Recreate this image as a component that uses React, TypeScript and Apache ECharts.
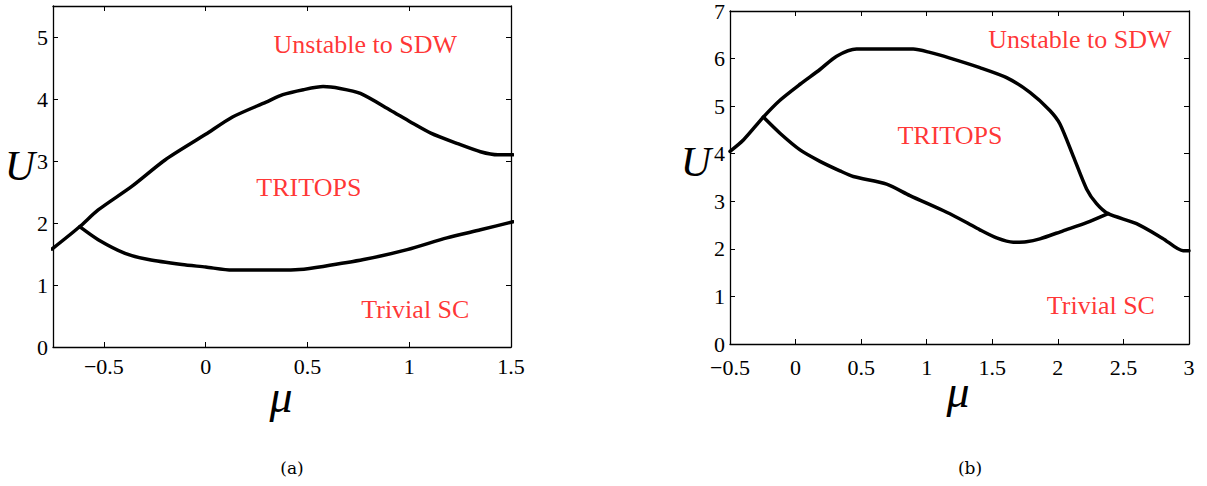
import React, { useEffect, useRef } from "react";
import * as echarts from "echarts";

// Panel (a)
const aUpperMu = [-0.755, -0.619, -0.528, -0.363, -0.198, 0, 0.132, 0.297, 0.379, 0.48, 0.577, 0.66, 0.76, 0.907, 1.006, 1.106, 1.238, 1.35, 1.436, 1.51];
const aUpperU = [1.58, 1.94, 2.21, 2.59, 3.02, 3.43, 3.71, 3.95, 4.07, 4.15, 4.2, 4.17, 4.09, 3.82, 3.63, 3.45, 3.28, 3.15, 3.1, 3.1];
const aLowerMu = [-0.619, -0.528, -0.396, -0.281, -0.116, 0, 0.13, 0.363, 0.46, 0.577, 0.776, 0.99, 1.185, 1.35, 1.51];
const aLowerU = [1.94, 1.73, 1.51, 1.41, 1.33, 1.29, 1.24, 1.24, 1.25, 1.3, 1.41, 1.57, 1.76, 1.89, 2.02];

// Panel (b)
const bUpperMu = [-0.5, -0.398, -0.246, -0.121, 0.034, 0.186, 0.313, 0.465, 0.897, 1.024, 1.177, 1.405, 1.609, 1.787, 1.939, 2.015, 2.117, 2.219, 2.295, 2.383, 2.6, 2.8, 2.955, 3.0];
const bUpperU = [4.05, 4.29, 4.77, 5.12, 5.46, 5.77, 6.05, 6.2, 6.2, 6.13, 6.01, 5.81, 5.6, 5.29, 4.91, 4.63, 3.95, 3.26, 2.95, 2.74, 2.53, 2.22, 1.96, 1.96];
const bLowerMu = [-0.246, -0.119, 0.034, 0.186, 0.338, 0.44, 0.694, 0.872, 1.152, 1.3, 1.405, 1.533, 1.66, 1.76, 1.863, 2.04, 2.219, 2.383];
const bLowerU = [4.77, 4.43, 4.08, 3.84, 3.64, 3.52, 3.36, 3.12, 2.77, 2.56, 2.4, 2.23, 2.14, 2.15, 2.21, 2.38, 2.55, 2.74];

const aXTicks = [-0.5, 0, 0.5, 1, 1.5];
const aYTicks = [0, 1, 2, 3, 4, 5];
const bXTicks = [-0.5, 0, 0.5, 1, 1.5, 2, 2.5, 3];
const bYTicks = [0, 1, 2, 3, 4, 5, 6, 7];

const regionNames = ["Unstable to SDW", "TRITOPS", "Trivial SC"];
const aRegionPos: [number, number][] = [[0.784, 4.88], [0.507, 2.58], [1.03, 0.6]];
const bRegionPos: [number, number][] = [[2.168, 6.41], [1.177, 4.39], [2.328, 0.81]];

const SERIF = "Liberation Serif";

const fmt = (v: number) => String(v).replace("-", "\u2212");

function zip(xs: number[], ys: number[]) {
  return xs.map((x, i) => [x, ys[i]]);
}

export default function App() {
  const ref = useRef<HTMLDivElement>(null);
  useEffect(() => {
    document.body.style.margin = "0";
    if (!ref.current) return;
    const chart = echarts.init(ref.current, null, { renderer: "svg" });

    const lineStyleAxis = { color: "#000", width: 1.3 };
    const mkX = (gi: number, min: number, max: number, ticks: number[], pos: "bottom" | "top", margin: number) => ({
      type: "value",
      gridIndex: gi,
      position: pos,
      min,
      max,
      splitLine: { show: false },
      axisLine: { show: true, onZero: false, lineStyle: lineStyleAxis },
      axisTick: { show: true, inside: true, length: 5, customValues: ticks, lineStyle: { color: "#000", width: 1 } },
      axisLabel: {
        show: pos === "bottom",
        customValues: ticks,
        formatter: fmt,
        fontFamily: SERIF,
        fontSize: 22,
        lineHeight: 18,
        color: "#000",
        margin,
      },
    });
    const mkY = (gi: number, min: number, max: number, ticks: number[], pos: "left" | "right") => ({
      type: "value",
      gridIndex: gi,
      position: pos,
      min,
      max,
      splitLine: { show: false },
      axisLine: { show: true, onZero: false, lineStyle: lineStyleAxis },
      axisTick: { show: true, inside: true, length: 5, customValues: ticks, lineStyle: { color: "#000", width: 1 } },
      axisLabel: {
        show: pos === "left",
        customValues: ticks,
        formatter: fmt,
        fontFamily: SERIF,
        fontSize: 22,
        lineHeight: 18,
        color: "#000",
        margin: 5,
      },
    });

    const curve = (xi: number, yi: number, data: number[][]) => ({
      type: "line",
      xAxisIndex: xi,
      yAxisIndex: yi,
      data,
      symbol: "none",
      smooth: 0.25,
      clip: true,
      lineStyle: { color: "#000", width: 3.5, cap: "round", join: "round" },
      silent: true,
    });

    const labels = (xi: number, yi: number, pos: [number, number][]) => ({
      type: "scatter",
      xAxisIndex: xi,
      yAxisIndex: yi,
      symbolSize: 0,
      silent: true,
      data: pos.map((p, i) => ({ value: p, name: regionNames[i] })),
      label: {
        show: true,
        position: "inside",
        formatter: (p: any) => p.name,
        color: "#ff0000",
        fontFamily: SERIF,
        fontSize: 26,
      },
    });

    const txt = (x: number, y: number, text: string, font: string) => ({
      type: "text",
      x,
      y,
      style: { text, font, fill: "#000", align: "center", verticalAlign: "middle" },
    });

    chart.setOption({
      animation: false,
      backgroundColor: "#fff",
      grid: [
        { left: 53, top: 6, width: 458, height: 341 },
        { left: 730, top: 6, width: 459, height: 338 },
      ],
      xAxis: [
        mkX(0, -0.75, 1.5, aXTicks, "bottom", 10),
        mkX(0, -0.75, 1.5, aXTicks, "top", 10),
        mkX(1, -0.5, 3, bXTicks, "bottom", 14),
        mkX(1, -0.5, 3, bXTicks, "top", 14),
      ],
      yAxis: [
        mkY(0, 0, 5.5, aYTicks, "left"),
        mkY(0, 0, 5.5, aYTicks, "right"),
        mkY(1, 0, 7, bYTicks, "left"),
        mkY(1, 0, 7, bYTicks, "right"),
      ],
      series: [
        curve(0, 0, zip(aUpperMu, aUpperU)),
        curve(0, 0, zip(aLowerMu, aLowerU)),
        curve(2, 2, zip(bUpperMu, bUpperU)),
        curve(2, 2, zip(bLowerMu, bLowerU)),
        labels(0, 0, aRegionPos),
        labels(2, 2, bRegionPos),
      ],
      graphic: [
        txt(20, 166, "U", "italic 42px Liberation Serif"),
        txt(281, 396, "\u03bc", "italic 46px Liberation Serif"),
        txt(696, 162, "U", "italic 42px Liberation Serif"),
        txt(958, 391, "\u03bc", "italic 46px Liberation Serif"),
        txt(292, 468, "(a)", "17px DejaVu Serif"),
        txt(970, 468, "(b)", "17px DejaVu Serif"),
      ],
    });
    return () => chart.dispose();
  }, []);
  return <div ref={ref} style={{ width: 1207, height: 486 }} />;
}
